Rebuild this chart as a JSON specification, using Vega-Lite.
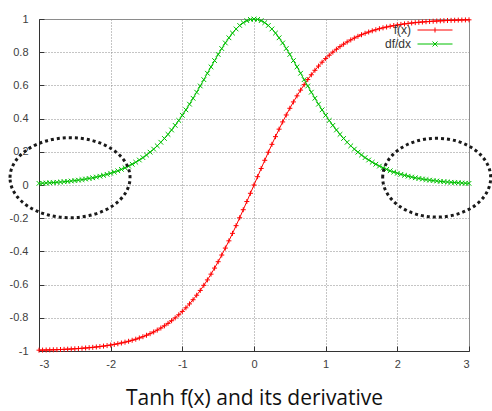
{
"$schema": "https://vega.github.io/schema/vega-lite/v6.json",
"width": 430, "height": 332,
"autosize": {"type": "none"},
"padding": {"left": 39, "top": 19, "right": 23, "bottom": 60},
"background": "white",
"config": {
 "view": {"stroke": "#8c8c8c", "strokeWidth": 1},
 "axis": {"labelFont": "Liberation Sans", "labelFontSize": 11, "labelColor": "#404040", "domainColor": "#333333", "grid": true, "gridColor": "#8a8a8a", "gridDash": [1, 2], "gridWidth": 1, "tickColor": "#333333", "tickSize": -5, "labelOverlap": false}
},
"datasets": {
 "curves": [
{"x":-3,"s":"f(x)","y":-0.99505},{"x":-2.95,"s":"f(x)","y":-0.99454},{"x":-2.9,"s":"f(x)","y":-0.99396},{"x":-2.85,"s":"f(x)","y":-0.99333},{"x":-2.8,"s":"f(x)","y":-0.99263},{"x":-2.75,"s":"f(x)","y":-0.99186},{"x":-2.7,"s":"f(x)","y":-0.99101},{"x":-2.65,"s":"f(x)","y":-0.99007},{"x":-2.6,"s":"f(x)","y":-0.98903},{"x":-2.55,"s":"f(x)","y":-0.98788},{"x":-2.5,"s":"f(x)","y":-0.98661},{"x":-2.45,"s":"f(x)","y":-0.98522},{"x":-2.4,"s":"f(x)","y":-0.98367},{"x":-2.35,"s":"f(x)","y":-0.98197},{"x":-2.3,"s":"f(x)","y":-0.9801},{"x":-2.25,"s":"f(x)","y":-0.97803},{"x":-2.2,"s":"f(x)","y":-0.97574},{"x":-2.15,"s":"f(x)","y":-0.97323},{"x":-2.1,"s":"f(x)","y":-0.97045},{"x":-2.05,"s":"f(x)","y":-0.9674},
{"x":-2,"s":"f(x)","y":-0.96403},{"x":-1.95,"s":"f(x)","y":-0.96032},{"x":-1.9,"s":"f(x)","y":-0.95624},{"x":-1.85,"s":"f(x)","y":-0.95175},{"x":-1.8,"s":"f(x)","y":-0.94681},{"x":-1.75,"s":"f(x)","y":-0.94138},{"x":-1.7,"s":"f(x)","y":-0.93541},{"x":-1.65,"s":"f(x)","y":-0.92886},{"x":-1.6,"s":"f(x)","y":-0.92167},{"x":-1.55,"s":"f(x)","y":-0.91379},{"x":-1.5,"s":"f(x)","y":-0.90515},{"x":-1.45,"s":"f(x)","y":-0.89569},{"x":-1.4,"s":"f(x)","y":-0.88535},{"x":-1.35,"s":"f(x)","y":-0.87405},{"x":-1.3,"s":"f(x)","y":-0.86172},{"x":-1.25,"s":"f(x)","y":-0.84828},{"x":-1.2,"s":"f(x)","y":-0.83365},{"x":-1.15,"s":"f(x)","y":-0.81775},{"x":-1.1,"s":"f(x)","y":-0.8005},{"x":-1.05,"s":"f(x)","y":-0.78181},
{"x":-1,"s":"f(x)","y":-0.76159},{"x":-0.95,"s":"f(x)","y":-0.73978},{"x":-0.9,"s":"f(x)","y":-0.7163},{"x":-0.85,"s":"f(x)","y":-0.69107},{"x":-0.8,"s":"f(x)","y":-0.66404},{"x":-0.75,"s":"f(x)","y":-0.63515},{"x":-0.7,"s":"f(x)","y":-0.60437},{"x":-0.65,"s":"f(x)","y":-0.57167},{"x":-0.6,"s":"f(x)","y":-0.53705},{"x":-0.55,"s":"f(x)","y":-0.50052},{"x":-0.5,"s":"f(x)","y":-0.46212},{"x":-0.45,"s":"f(x)","y":-0.4219},{"x":-0.4,"s":"f(x)","y":-0.37995},{"x":-0.35,"s":"f(x)","y":-0.33638},{"x":-0.3,"s":"f(x)","y":-0.29131},{"x":-0.25,"s":"f(x)","y":-0.24492},{"x":-0.2,"s":"f(x)","y":-0.19738},{"x":-0.15,"s":"f(x)","y":-0.14889},{"x":-0.1,"s":"f(x)","y":-0.09967},{"x":-0.05,"s":"f(x)","y":-0.04996},
{"x":0,"s":"f(x)","y":0},
{"x":0.05,"s":"f(x)","y":0.04996},{"x":0.1,"s":"f(x)","y":0.09967},{"x":0.15,"s":"f(x)","y":0.14889},{"x":0.2,"s":"f(x)","y":0.19738},{"x":0.25,"s":"f(x)","y":0.24492},{"x":0.3,"s":"f(x)","y":0.29131},{"x":0.35,"s":"f(x)","y":0.33638},{"x":0.4,"s":"f(x)","y":0.37995},{"x":0.45,"s":"f(x)","y":0.4219},{"x":0.5,"s":"f(x)","y":0.46212},{"x":0.55,"s":"f(x)","y":0.50052},{"x":0.6,"s":"f(x)","y":0.53705},{"x":0.65,"s":"f(x)","y":0.57167},{"x":0.7,"s":"f(x)","y":0.60437},{"x":0.75,"s":"f(x)","y":0.63515},{"x":0.8,"s":"f(x)","y":0.66404},{"x":0.85,"s":"f(x)","y":0.69107},{"x":0.9,"s":"f(x)","y":0.7163},{"x":0.95,"s":"f(x)","y":0.73978},{"x":1,"s":"f(x)","y":0.76159},
{"x":1.05,"s":"f(x)","y":0.78181},{"x":1.1,"s":"f(x)","y":0.8005},{"x":1.15,"s":"f(x)","y":0.81775},{"x":1.2,"s":"f(x)","y":0.83365},{"x":1.25,"s":"f(x)","y":0.84828},{"x":1.3,"s":"f(x)","y":0.86172},{"x":1.35,"s":"f(x)","y":0.87405},{"x":1.4,"s":"f(x)","y":0.88535},{"x":1.45,"s":"f(x)","y":0.89569},{"x":1.5,"s":"f(x)","y":0.90515},{"x":1.55,"s":"f(x)","y":0.91379},{"x":1.6,"s":"f(x)","y":0.92167},{"x":1.65,"s":"f(x)","y":0.92886},{"x":1.7,"s":"f(x)","y":0.93541},{"x":1.75,"s":"f(x)","y":0.94138},{"x":1.8,"s":"f(x)","y":0.94681},{"x":1.85,"s":"f(x)","y":0.95175},{"x":1.9,"s":"f(x)","y":0.95624},{"x":1.95,"s":"f(x)","y":0.96032},{"x":2,"s":"f(x)","y":0.96403},
{"x":2.05,"s":"f(x)","y":0.9674},{"x":2.1,"s":"f(x)","y":0.97045},{"x":2.15,"s":"f(x)","y":0.97323},{"x":2.2,"s":"f(x)","y":0.97574},{"x":2.25,"s":"f(x)","y":0.97803},{"x":2.3,"s":"f(x)","y":0.9801},{"x":2.35,"s":"f(x)","y":0.98197},{"x":2.4,"s":"f(x)","y":0.98367},{"x":2.45,"s":"f(x)","y":0.98522},{"x":2.5,"s":"f(x)","y":0.98661},{"x":2.55,"s":"f(x)","y":0.98788},{"x":2.6,"s":"f(x)","y":0.98903},{"x":2.65,"s":"f(x)","y":0.99007},{"x":2.7,"s":"f(x)","y":0.99101},{"x":2.75,"s":"f(x)","y":0.99186},{"x":2.8,"s":"f(x)","y":0.99263},{"x":2.85,"s":"f(x)","y":0.99333},{"x":2.9,"s":"f(x)","y":0.99396},{"x":2.95,"s":"f(x)","y":0.99454},{"x":3,"s":"f(x)","y":0.99505},
{"x":-3,"s":"df/dx","y":0.00988},{"x":-2.95,"s":"df/dx","y":0.01089},{"x":-2.9,"s":"df/dx","y":0.01204},{"x":-2.85,"s":"df/dx","y":0.0133},{"x":-2.8,"s":"df/dx","y":0.01469},{"x":-2.75,"s":"df/dx","y":0.01621},{"x":-2.7,"s":"df/dx","y":0.0179},{"x":-2.65,"s":"df/dx","y":0.01976},{"x":-2.6,"s":"df/dx","y":0.02182},{"x":-2.55,"s":"df/dx","y":0.02409},{"x":-2.5,"s":"df/dx","y":0.0266},{"x":-2.45,"s":"df/dx","y":0.02934},{"x":-2.4,"s":"df/dx","y":0.03239},{"x":-2.35,"s":"df/dx","y":0.03574},{"x":-2.3,"s":"df/dx","y":0.0394},{"x":-2.25,"s":"df/dx","y":0.04346},{"x":-2.2,"s":"df/dx","y":0.04793},{"x":-2.15,"s":"df/dx","y":0.05282},{"x":-2.1,"s":"df/dx","y":0.05823},{"x":-2.05,"s":"df/dx","y":0.06414},
{"x":-2,"s":"df/dx","y":0.07065},{"x":-1.95,"s":"df/dx","y":0.07779},{"x":-1.9,"s":"df/dx","y":0.08561},{"x":-1.85,"s":"df/dx","y":0.09417},{"x":-1.8,"s":"df/dx","y":0.10355},{"x":-1.75,"s":"df/dx","y":0.1138},{"x":-1.7,"s":"df/dx","y":0.12501},{"x":-1.65,"s":"df/dx","y":0.13722},{"x":-1.6,"s":"df/dx","y":0.15052},{"x":-1.55,"s":"df/dx","y":0.16499},{"x":-1.5,"s":"df/dx","y":0.1807},{"x":-1.45,"s":"df/dx","y":0.19774},{"x":-1.4,"s":"df/dx","y":0.21616},{"x":-1.35,"s":"df/dx","y":0.23604},{"x":-1.3,"s":"df/dx","y":0.25744},{"x":-1.25,"s":"df/dx","y":0.28042},{"x":-1.2,"s":"df/dx","y":0.30503},{"x":-1.15,"s":"df/dx","y":0.33128},{"x":-1.1,"s":"df/dx","y":0.3592},{"x":-1.05,"s":"df/dx","y":0.38877},
{"x":-1,"s":"df/dx","y":0.41998},{"x":-0.95,"s":"df/dx","y":0.45273},{"x":-0.9,"s":"df/dx","y":0.48691},{"x":-0.85,"s":"df/dx","y":0.52242},{"x":-0.8,"s":"df/dx","y":0.55905},{"x":-0.75,"s":"df/dx","y":0.59658},{"x":-0.7,"s":"df/dx","y":0.63474},{"x":-0.65,"s":"df/dx","y":0.67319},{"x":-0.6,"s":"df/dx","y":0.71158},{"x":-0.55,"s":"df/dx","y":0.74948},{"x":-0.5,"s":"df/dx","y":0.78645},{"x":-0.45,"s":"df/dx","y":0.822},{"x":-0.4,"s":"df/dx","y":0.85564},{"x":-0.35,"s":"df/dx","y":0.88685},{"x":-0.3,"s":"df/dx","y":0.91514},{"x":-0.25,"s":"df/dx","y":0.94001},{"x":-0.2,"s":"df/dx","y":0.96104},{"x":-0.15,"s":"df/dx","y":0.97783},{"x":-0.1,"s":"df/dx","y":0.99007},{"x":-0.05,"s":"df/dx","y":0.9975},
{"x":0,"s":"df/dx","y":1},
{"x":0.05,"s":"df/dx","y":0.9975},{"x":0.1,"s":"df/dx","y":0.99007},{"x":0.15,"s":"df/dx","y":0.97783},{"x":0.2,"s":"df/dx","y":0.96104},{"x":0.25,"s":"df/dx","y":0.94001},{"x":0.3,"s":"df/dx","y":0.91514},{"x":0.35,"s":"df/dx","y":0.88685},{"x":0.4,"s":"df/dx","y":0.85564},{"x":0.45,"s":"df/dx","y":0.822},{"x":0.5,"s":"df/dx","y":0.78645},{"x":0.55,"s":"df/dx","y":0.74948},{"x":0.6,"s":"df/dx","y":0.71158},{"x":0.65,"s":"df/dx","y":0.67319},{"x":0.7,"s":"df/dx","y":0.63474},{"x":0.75,"s":"df/dx","y":0.59658},{"x":0.8,"s":"df/dx","y":0.55905},{"x":0.85,"s":"df/dx","y":0.52242},{"x":0.9,"s":"df/dx","y":0.48691},{"x":0.95,"s":"df/dx","y":0.45273},{"x":1,"s":"df/dx","y":0.41998},
{"x":1.05,"s":"df/dx","y":0.38877},{"x":1.1,"s":"df/dx","y":0.3592},{"x":1.15,"s":"df/dx","y":0.33128},{"x":1.2,"s":"df/dx","y":0.30503},{"x":1.25,"s":"df/dx","y":0.28042},{"x":1.3,"s":"df/dx","y":0.25744},{"x":1.35,"s":"df/dx","y":0.23604},{"x":1.4,"s":"df/dx","y":0.21616},{"x":1.45,"s":"df/dx","y":0.19774},{"x":1.5,"s":"df/dx","y":0.1807},{"x":1.55,"s":"df/dx","y":0.16499},{"x":1.6,"s":"df/dx","y":0.15052},{"x":1.65,"s":"df/dx","y":0.13722},{"x":1.7,"s":"df/dx","y":0.12501},{"x":1.75,"s":"df/dx","y":0.1138},{"x":1.8,"s":"df/dx","y":0.10355},{"x":1.85,"s":"df/dx","y":0.09417},{"x":1.9,"s":"df/dx","y":0.08561},{"x":1.95,"s":"df/dx","y":0.07779},{"x":2,"s":"df/dx","y":0.07065},
{"x":2.05,"s":"df/dx","y":0.06414},{"x":2.1,"s":"df/dx","y":0.05823},{"x":2.15,"s":"df/dx","y":0.05282},{"x":2.2,"s":"df/dx","y":0.04793},{"x":2.25,"s":"df/dx","y":0.04346},{"x":2.3,"s":"df/dx","y":0.0394},{"x":2.35,"s":"df/dx","y":0.03574},{"x":2.4,"s":"df/dx","y":0.03239},{"x":2.45,"s":"df/dx","y":0.02934},{"x":2.5,"s":"df/dx","y":0.0266},{"x":2.55,"s":"df/dx","y":0.02409},{"x":2.6,"s":"df/dx","y":0.02182},{"x":2.65,"s":"df/dx","y":0.01976},{"x":2.7,"s":"df/dx","y":0.0179},{"x":2.75,"s":"df/dx","y":0.01621},{"x":2.8,"s":"df/dx","y":0.01469},{"x":2.85,"s":"df/dx","y":0.0133},{"x":2.9,"s":"df/dx","y":0.01204},{"x":2.95,"s":"df/dx","y":0.01089},{"x":3,"s":"df/dx","y":0.00988}
 ],
 "leftOval": [{"x": -2.567, "y": 0.044}],
 "rightOval": [{"x": 2.549, "y": 0.044}]
},
"layer": [
 {
  "data": {"name": "curves"},
  "mark": {"type": "line", "strokeWidth": 1},
  "encoding": {
   "x": {"field": "x", "type": "quantitative", "scale": {"domain": [-3, 3], "nice": false},
    "axis": {"values": [-3, -2, -1, 0, 1, 2, 3], "labelExpr": "'' + datum.value", "labelPadding": 12, "labelOverlap": false,
     "title": "Tanh f(x) and its derivative", "titleFont": "Open Sans", "titleFontSize": 21, "titleFontWeight": "normal", "titleColor": "#111111", "titlePadding": 18}},
   "y": {"field": "y", "type": "quantitative", "scale": {"domain": [-1, 1], "nice": false},
    "axis": {"values": [-1, -0.8, -0.6, -0.4, -0.2, 0, 0.2, 0.4, 0.6, 0.8, 1], "tickCount": 11, "labelExpr": "'' + datum.value", "labelPadding": 16, "labelOverlap": false, "labelFlush": false, "title": null}},
   "color": {"field": "s", "type": "nominal",
    "scale": {"domain": ["f(x)", "df/dx"], "range": ["#ff0000", "#00c000"]},
    "legend": {"orient": "none", "legendX": 390, "legendY": 5, "title": null, "padding": 0,
     "symbolSize": 100, "symbolStrokeWidth": 1, "symbolFillColor": "transparent",
     "labelAlign": "right", "labelOffset": -30, "labelFont": "Liberation Sans", "labelFontSize": 12, "labelColor": "#333333", "rowPadding": 2}}
  }
 },
 {
  "data": {"name": "curves"},
  "transform": [{"filter": "datum.x > 100"}],
  "mark": {"type": "point", "filled": false, "opacity": 1, "size": 100, "strokeWidth": 1},
  "encoding": {
   "x": {"field": "x", "type": "quantitative"},
   "y": {"field": "y", "type": "quantitative"},
   "color": {"field": "s", "type": "nominal"},
   "shape": {"field": "s", "type": "nominal", "scale": {"domain": ["f(x)", "df/dx"], "range": ["M-3.5,0H3.5M0,-0.5V0.5", "M-3.5,0H3.5M-0.5,-0.5L0.5,0.5M-0.5,0.5L0.5,-0.5"]}, "legend": {"title": null}}
  }
 },
 {
  "data": {"name": "curves"},
  "transform": [{"filter": "datum.s === 'f(x)'"}],
  "mark": {"type": "point", "filled": false, "opacity": 1, "size": 25, "strokeWidth": 1, "color": "#ff0000", "shape": "M-1,0H1M0,-1V1"},
  "encoding": {"x": {"field": "x", "type": "quantitative"}, "y": {"field": "y", "type": "quantitative"}}
 },
 {
  "data": {"name": "curves"},
  "transform": [{"filter": "datum.s === 'df/dx'"}],
  "mark": {"type": "point", "filled": false, "opacity": 1, "size": 22, "strokeWidth": 1, "color": "#00c000", "shape": "M-1,-1L1,1M-1,1L1,-1"},
  "encoding": {"x": {"field": "x", "type": "quantitative"}, "y": {"field": "y", "type": "quantitative"}}
 },
 {
  "data": {"name": "leftOval"},
  "mark": {"type": "point", "filled": false, "opacity": 1, "size": 14400, "strokeWidth": 3, "strokeDash": [3, 3], "color": "#1a1a1a",
   "shape": "M-1,0A1,0.667 0 1 1 1,0A1,0.667 0 1 1 -1,0"},
  "encoding": {"x": {"field": "x", "type": "quantitative"}, "y": {"field": "y", "type": "quantitative"}}
 },
 {
  "data": {"name": "rightOval"},
  "mark": {"type": "point", "filled": false, "opacity": 1, "size": 11664, "strokeWidth": 3, "strokeDash": [3, 3], "color": "#1a1a1a",
   "shape": "M-1,0A1,0.73 0 1 1 1,0A1,0.73 0 1 1 -1,0"},
  "encoding": {"x": {"field": "x", "type": "quantitative"}, "y": {"field": "y", "type": "quantitative"}}
 }
]
}
